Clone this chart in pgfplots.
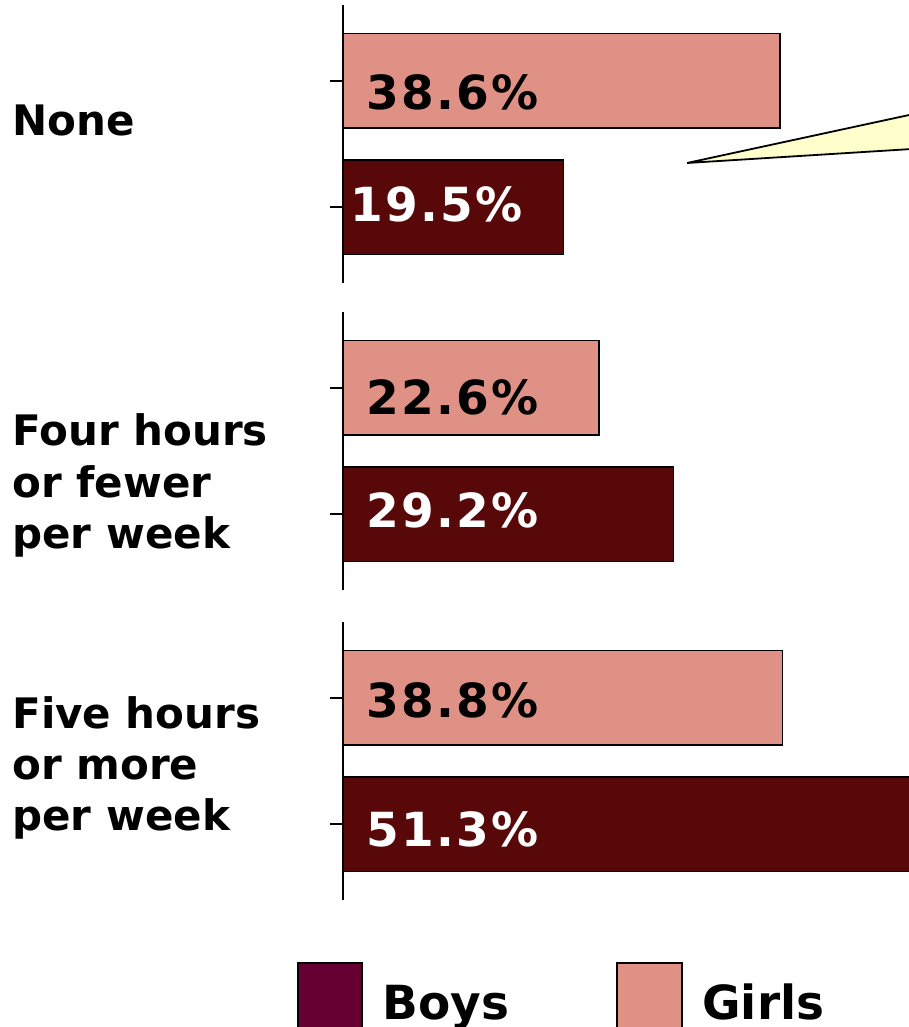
\documentclass[border=0pt]{standalone}
\usepackage{pgfplots}
\pgfplotsset{compat=1.18}
\usepackage{fontspec}
\setmainfont{DejaVu Sans}
\newfontfamily\pctfont[LetterSpace=5]{DejaVu Sans}
\definecolor{girls}{RGB}{224,145,133}
\definecolor{boys}{RGB}{88,8,8}
\definecolor{legboys}{RGB}{102,0,51}
\definecolor{callout}{RGB}{255,255,204}

\pgfplotsset{panel/.style={
  scale only axis, width=283pt, height=139pt,
  xmin=0, xmax=50, ymin=-0.6, ymax=1.6,
  axis x line=none, axis y line*=left,
  axis line style={-, line width=1pt},
  ytick={0,1}, yticklabels={}, tick align=outside,
  major tick length=6.5pt, tick style={line width=1pt, black},
  anchor=south west},
  girlbar/.style={xbar, bar shift=0pt, bar width=0.745, fill=girls, draw=black, line width=0.7pt},
  boybar/.style={xbar, bar shift=0pt, bar width=0.745, fill=boys, draw=black, line width=0.7pt}}

\newcommand\cat[3]{\node[anchor=base west, inner sep=0pt, font=\fontsize{21}{25}\bfseries] at (#1pt,#2pt) {#3};}
\newcommand\pct[4]{\node[anchor=base west, inner sep=0pt, text=#4, font=\pctfont\fontsize{23.5}{27}\bfseries] at (#1pt,#2pt) {#3};}

\begin{document}
\begin{tikzpicture}
\useasboundingbox (0pt,0pt) rectangle (454.5pt,-513.5pt);

% None
\begin{axis}[panel, at={(171.5pt,-141.5pt)}]
\addplot[girlbar] coordinates {(38.6,1)};
\addplot[boybar] coordinates {(19.5,0)};
\end{axis}

% Four hours or fewer
\begin{axis}[panel, at={(171.5pt,-295pt)}]
\addplot[girlbar] coordinates {(22.6,1)};
\addplot[boybar] coordinates {(29.2,0)};
\end{axis}

% Five hours or more
\begin{axis}[panel, at={(171.5pt,-450pt)}]
\addplot[girlbar] coordinates {(38.8,1)};
\addplot[boybar] coordinates {(51.3,0)};
\end{axis}

% callout pointer
\draw[fill=callout, line width=0.9pt, line join=miter]
  (343.5pt,-81.5pt) -- (480pt,-52pt) -- (480pt,-73pt) -- cycle;

% bar value labels
\pct{183}{-55}{38.6\%}{black}
\pct{175}{-110.5}{19.5\%}{white}
\pct{183}{-207}{22.6\%}{black}
\pct{183}{-263.5}{29.2\%}{white}
\pct{183}{-358.5}{38.8\%}{black}
\pct{183}{-423}{51.3\%}{white}

% category labels
\cat{6}{-68}{None}
\cat{6}{-222.5}{Four hours}
\cat{6}{-248.5}{or fewer}
\cat{6}{-274}{per week}
\cat{6}{-364}{Five hours}
\cat{6}{-389.5}{or more}
\cat{6}{-415}{per week}

% legend
\draw[fill=legboys, line width=1pt] (149pt,-481.5pt) rectangle (181pt,-516pt);
\node[anchor=base west, inner sep=0pt, font=\fontsize{23.5}{28}\bfseries] at (191pt,-509.5pt) {Boys};
\draw[fill=girls, line width=1pt] (308.5pt,-481.5pt) rectangle (341pt,-516pt);
\node[anchor=base west, inner sep=0pt, font=\fontsize{23.5}{28}\bfseries] at (351pt,-509.5pt) {Girls};
\end{tikzpicture}
\end{document}
